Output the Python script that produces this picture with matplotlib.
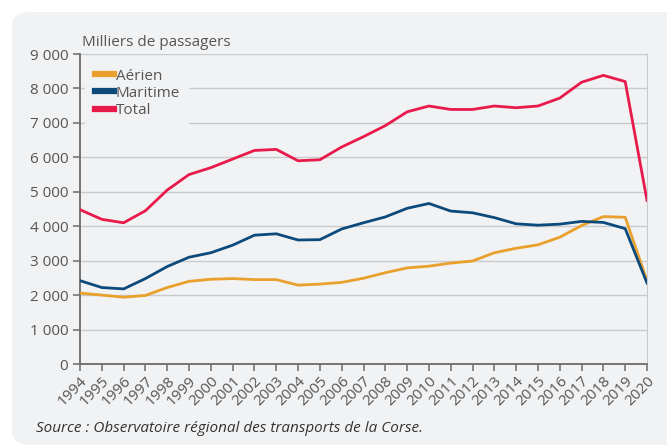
import matplotlib.pyplot as plt
from matplotlib.patches import FancyBboxPatch
from matplotlib.ticker import FuncFormatter

years = list(range(1994, 2021))
aerien = [2060, 2000, 1940, 1990, 2220, 2400, 2460, 2480, 2450, 2450, 2290, 2320, 2370, 2490,
          2650, 2790, 2840, 2930, 2990, 3230, 3360, 3460, 3680, 4020, 4280, 4260, 2420]
maritime = [2420, 2220, 2180, 2480, 2830, 3100, 3230, 3450, 3740, 3780, 3600, 3610, 3920, 4100,
            4270, 4520, 4660, 4440, 4390, 4250, 4070, 4030, 4060, 4140, 4110, 3930, 2350]
total = [4480, 4200, 4100, 4450, 5050, 5500, 5700, 5950, 6200, 6230, 5900, 5930, 6300, 6600,
         6920, 7320, 7490, 7390, 7390, 7490, 7440, 7490, 7720, 8180, 8380, 8200, 4750]

plt.rcParams['font.family'] = ['Open Sans', 'DejaVu Sans']

bg = '#f1f2f4'
txt = '#555555'

fig = plt.figure(figsize=(6.67, 4.47), dpi=100)
panel = FancyBboxPatch((12 / 667, 2 / 447), 700 / 667, 433 / 447,
                       boxstyle='round,pad=0,rounding_size=0.03',
                       transform=fig.transFigure, facecolor=bg, edgecolor='none', zorder=-5)
fig.patches.append(panel)

ax = fig.add_axes([80 / 667, 1 - 364 / 447, 567 / 667, 310 / 447])
ax.set_facecolor(bg)

ax.plot(years, aerien, color='#e9a02c', lw=2, label='Aérien', zorder=3)
ax.plot(years, maritime, color='#0c4a7c', lw=2, label='Maritime', zorder=3)
ax.plot(years, total, color='#e8194b', lw=2, label='Total', zorder=3)

ax.set_xlim(1994, 2020)
ax.set_ylim(0, 9000)
ax.set_yticks(range(0, 9001, 1000))
ax.yaxis.set_major_formatter(FuncFormatter(lambda v, p: f'{int(v):,}'.replace(',', ' ')))
ax.set_xticks(years)
ax.set_xticklabels([str(y) for y in years], rotation=45, ha='right', rotation_mode='anchor')

ax.grid(axis='y', color='#c9cacc', lw=1)
ax.set_axisbelow(True)
ax.spines['top'].set_visible(False)
ax.spines['right'].set_color('#c9cacc')
ax.spines['left'].set_color('#6b6b6b')
ax.spines['bottom'].set_color('#6b6b6b')
ax.spines['left'].set_linewidth(1.3)
ax.spines['bottom'].set_linewidth(1.3)
ax.tick_params(colors='#6b6b6b', labelcolor=txt, labelsize=11, length=5, width=1.1)
ax.tick_params(axis='x', pad=2)

leg = ax.legend(loc='upper left', frameon=True, fontsize=11, handlelength=1.3,
                handletextpad=0.1, labelspacing=0.15, borderaxespad=0.35, borderpad=0.6)
leg.get_frame().set_facecolor(bg)
leg.get_frame().set_edgecolor('none')
leg.get_frame().set_alpha(1)
for h in leg.get_lines():
    h.set_linewidth(4.5)
for t in leg.get_texts():
    t.set_color(txt)

fig.text(82 / 667, 1 - 42 / 447, 'Milliers de passagers', fontsize=11, color=txt, va='center')
fig.text(36 / 667, 1 - 428 / 447, 'Source : Observatoire régional des transports de la Corse.',
         fontsize=11, color='#333333', style='italic', va='center')

fig.savefig('out.png', dpi=100)
